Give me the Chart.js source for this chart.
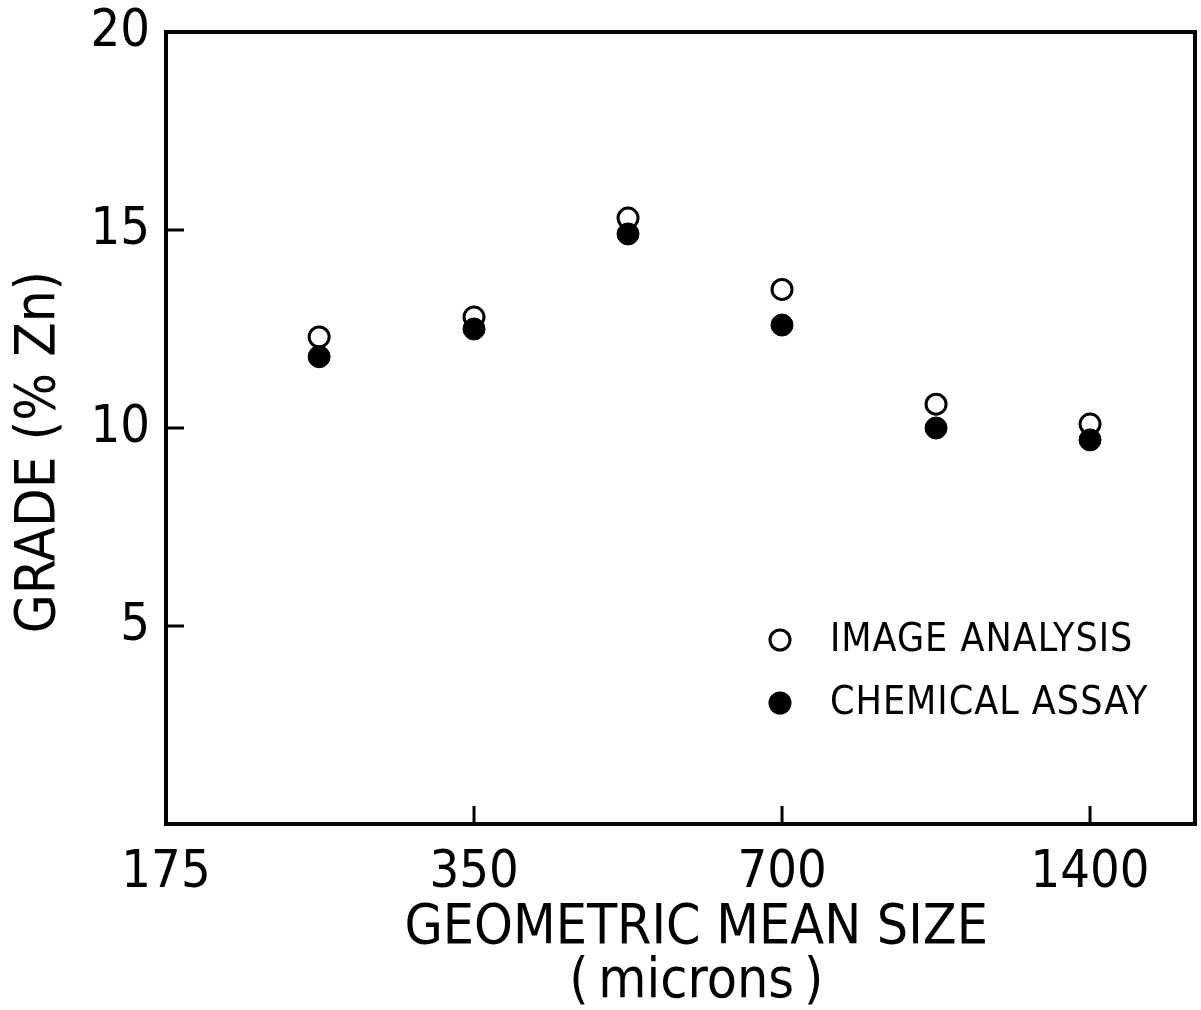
<!DOCTYPE html>
<html>
<head>
<meta charset="utf-8">
<script src="https://cdn.jsdelivr.net/npm/chart.js@4"></script>
<style>
  body { margin: 0; background: #fff; }
  #wrap { width: 1201px; height: 1010px; }
</style>
</head>
<body>
<div id="wrap"><canvas id="gradeChart" width="1201" height="1010"></canvas></div>
<script>
const sizes = [247, 350, 495, 700, 990, 1400];
const imageAnalysis = [12.3, 12.8, 15.3, 13.5, 10.6, 10.1];
const chemicalAssay = [11.8, 12.5, 14.9, 12.6, 10.0, 9.7];
const xTickValues = [175, 350, 700, 1400];
const yTickValues = [5, 10, 15, 20];
const legendLabels = ["IMAGE ANALYSIS", "CHEMICAL ASSAY"];

const FONT = "'Liberation Sans Narrow', 'DejaVu Sans Condensed', 'Liberation Sans', sans-serif";

function toPoints(values) {
  return values.map((v, i) => ({ x: sizes[i], y: v }));
}

function noScalePadding(scale) {
  scale.paddingTop = 0;
  scale.paddingBottom = 0;
  scale.paddingLeft = 0;
  scale.paddingRight = 0;
}

// frame, inward ticks and legend
const framePlugin = {
  id: "frame",
  afterDraw(chart) {
    const ctx = chart.ctx;
    const a = chart.chartArea;
    const xs = chart.scales.x;
    const ys = chart.scales.y;
    ctx.save();
    ctx.strokeStyle = "#000";
    ctx.lineWidth = 4;
    ctx.strokeRect(a.left, a.top, a.right - a.left, a.bottom - a.top);

    ctx.lineWidth = 3;
    xTickValues.slice(1).forEach((v) => {
      const px = xs.getPixelForValue(v);
      ctx.beginPath();
      ctx.moveTo(px, a.bottom);
      ctx.lineTo(px, a.bottom - 18);
      ctx.stroke();
    });
    yTickValues.slice(0, -1).forEach((v) => {
      const py = ys.getPixelForValue(v);
      ctx.beginPath();
      ctx.moveTo(a.left, py);
      ctx.lineTo(a.left + 18, py);
      ctx.stroke();
    });

    // legend
    const lx = a.left + 614;
    const rows = [a.top + 608, a.top + 671];
    ctx.font = "39px " + FONT;
    ctx.letterSpacing = "1px";
    ctx.fillStyle = "#000";
    ctx.textBaseline = "middle";
    rows.forEach((ry, i) => {
      ctx.beginPath();
      ctx.arc(lx, ry, i === 0 ? 10 : 11.5, 0, Math.PI * 2);
      if (i === 0) {
        ctx.lineWidth = 3;
        ctx.stroke();
      } else {
        ctx.fill();
      }
      ctx.fillText(legendLabels[i], lx + 50, ry + 1);
    });
    ctx.restore();
  },
};

const ctx = document.getElementById("gradeChart").getContext("2d");

new Chart(ctx, {
  type: "scatter",
  data: {
    datasets: [
      {
        label: legendLabels[0],
        data: toPoints(imageAnalysis),
        pointStyle: "circle",
        pointRadius: 10,
        pointBackgroundColor: "#fff",
        pointBorderColor: "#000",
        pointBorderWidth: 3,
        order: 1,
      },
      {
        label: legendLabels[1],
        data: toPoints(chemicalAssay),
        pointStyle: "circle",
        pointRadius: 11,
        pointBackgroundColor: "#000",
        pointBorderColor: "#000",
        pointBorderWidth: 1,
        order: 0,
      },
    ],
  },
  options: {
    responsive: false,
    animation: false,
    layout: { autoPadding: false, padding: { top: 32, right: 6, left: 0, bottom: 0 } },
    plugins: {
      legend: { display: false },
      tooltip: { enabled: false },
    },
    scales: {
      x: {
        type: "logarithmic",
        min: 175,
        max: 1773,
        afterBuildTicks: (scale) => {
          scale.ticks = xTickValues.map((v) => ({ value: v }));
        },
        afterFit: (scale) => {
          scale.height = 1010 - 824;
          noScalePadding(scale);
        },
        grid: { display: false, drawTicks: false },
        border: { display: false },
        ticks: {
          color: "#000",
          padding: 18,
          autoSkip: false,
          maxRotation: 0,
          font: { family: FONT, size: 52 },
          callback: (v) => String(v),
        },
        title: {
          display: true,
          text: ["  GEOMETRIC MEAN SIZE", "  (\u2009microns\u2009)"],
          color: "#000",
          padding: { top: 0, bottom: 0 },
          font: { family: FONT, size: 55, lineHeight: 0.98 },
        },
      },
      y: {
        min: 0,
        max: 20,
        afterBuildTicks: (scale) => {
          scale.ticks = yTickValues.map((v) => ({ value: v }));
        },
        afterFit: (scale) => {
          scale.width = 166;
          noScalePadding(scale);
        },
        grid: { display: false, drawTicks: false },
        border: { display: false },
        ticks: {
          color: "#000",
          padding: 16,
          font: { family: FONT, size: 52 },
        },
        title: {
          display: true,
          text: "GRADE (% Zn)   ",
          color: "#000",
          padding: { top: 6, bottom: 8 },
          font: { family: FONT, size: 56 },
        },
      },
    },
  },
  plugins: [framePlugin],
});
</script>
</body>
</html>
